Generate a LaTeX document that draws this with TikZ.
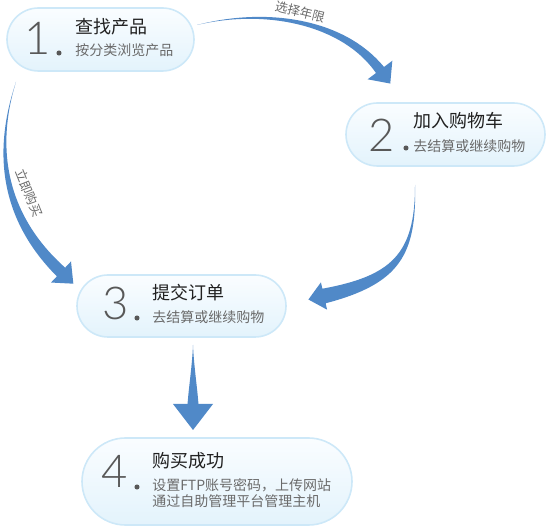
\documentclass[tikz,border=0pt]{standalone}
\usepackage{fontspec}
\setmainfont{Noto Sans CJK SC}
\newfontfamily\digitfont{Lato Light}
\usetikzlibrary{calc,shapes.misc}
\definecolor{flowblue}{HTML}{5089C8}
\definecolor{boxtop}{HTML}{FAFDFF}
\definecolor{boxbottom}{HTML}{E3F3FC}
\definecolor{boxedge}{HTML}{CDE8F8}
\definecolor{numgray}{HTML}{585858}
\definecolor{subgray}{HTML}{6A6A6A}
% tail, control 1, control 2, head base, shaft half width at control 2 and at head, head half width, head length
\newcommand{\flowarrow}[8]{%
  \fill[flow] (#1)
    .. controls ($(#2)!0.6pt!90:(#1)$) and ($(#3)!#5pt!90:(#2)$) .. ($(#4)!#6pt!90:(#3)$)
    -- ($(#4)!#7pt!90:(#3)$) -- ($(#4)!#8pt!180:(#3)$)
    -- ($(#4)!#7pt!-90:(#3)$) -- ($(#4)!#6pt!-90:(#3)$)
    .. controls ($(#3)!#5pt!-90:(#2)$) and ($(#2)!0.6pt!-90:(#1)$) .. (#1) -- cycle;}
\begin{document}
\begin{tikzpicture}[%
    x=0.75pt, y=-0.75pt,
    stepbox/.style={rounded rectangle, draw=boxedge, line width=1.2pt,
      top color=boxtop, bottom color=boxbottom, inner sep=0pt},
    num/.style={font=\digitfont\fontsize{34}{34}\selectfont, text=numgray,
      inner sep=0pt, anchor=base},
    title/.style={font=\fontsize{13.5}{16}\selectfont, text=black!87,
      inner sep=0pt, text height=10pt, text depth=0pt, anchor=base west},
    sub/.style={font=\fontsize{10.5}{13}\selectfont, text=subgray,
      inner sep=0pt, text height=8pt, text depth=0pt, anchor=base west},
    dot/.style={circle, fill=numgray, inner sep=0pt, minimum size=3.8pt},
    flow/.style={fill=flowblue},
    tag/.style={font=\fontsize{9.5}{11}\selectfont, text=subgray, inner sep=0pt}]
    \useasboundingbox (0,0) rectangle (546,530);

    \node [stepbox, minimum width=140.25pt, minimum height=47.25pt] (s1) at (100.5,39.5) {};
    \node [stepbox, minimum width=149.25pt, minimum height=47.25pt] (s2) at (445.5,134.5) {};
    \node [stepbox, minimum width=156.75pt, minimum height=46.5pt] (s3) at (181.5,306) {};
    \node [stepbox, minimum width=202.5pt, minimum height=65.25pt] (s4) at (217,481.5) {};

    \node [num] (n1) at (37.5,55) {1};
    \node [dot] (d1) at (59,53) {};
    \node [title] (t1) at (75,34) {查找产品};
    \node [sub] (u1) at (75,55.5) {按分类浏览产品};

    \node [num] (n2) at (381.5,152) {2};
    \node [dot] (d2) at (406,148) {};
    \node [title] (t2) at (413,127.5) {加入购物车};
    \node [sub] (u2) at (413,151.5) {去结算或继续购物};

    \node [num] (n3) at (116,320) {3};
    \node [dot] (d3) at (137,318) {};
    \node [title] (t3) at (152,299.5) {提交订单};
    \node [sub] (u3) at (152,322.5) {去结算或继续购物};

    \node [num] (n4) at (115,488) {4};
    \node [dot] (d4) at (137,487) {};
    \node [title] (t4) at (152,467.5) {购买成功};
    \node [sub] (u4) at (152,490.5) {设置FTP账号密码，上传网站};
    \node [sub] (v4) at (152,506.5) {通过自助管理平台管理主机};

    \coordinate (a12) at (197,25);
    \coordinate (b12) at (380,70);
    \coordinate (a13) at (16,82);
    \coordinate (b13) at (61,272);
    \coordinate (a23) at (415,185);
    \coordinate (b23) at (324,296);
    \coordinate (a34) at (193,345);
    \coordinate (b34) at (193,404);

    \flowarrow{a12}{265,8}{343,21}{b12}{2.6}{3.75}{11.6}{12.75}
    \flowarrow{a13}{-6,150}{3,217}{b13}{3.5}{4.5}{10.9}{12.75}
    \flowarrow{a23}{416,255}{395,280}{b23}{4.5}{5.6}{10.5}{12}
    \flowarrow{a34}{193,365}{193,385}{b34}{3}{4.1}{15}{19.5}

    \node [tag, rotate=-14] (l12) at (300,12) {选择年限};
    \node [tag, rotate=-68] (l13) at (29,193) {立即购买};
  \end{tikzpicture}
\end{document}
